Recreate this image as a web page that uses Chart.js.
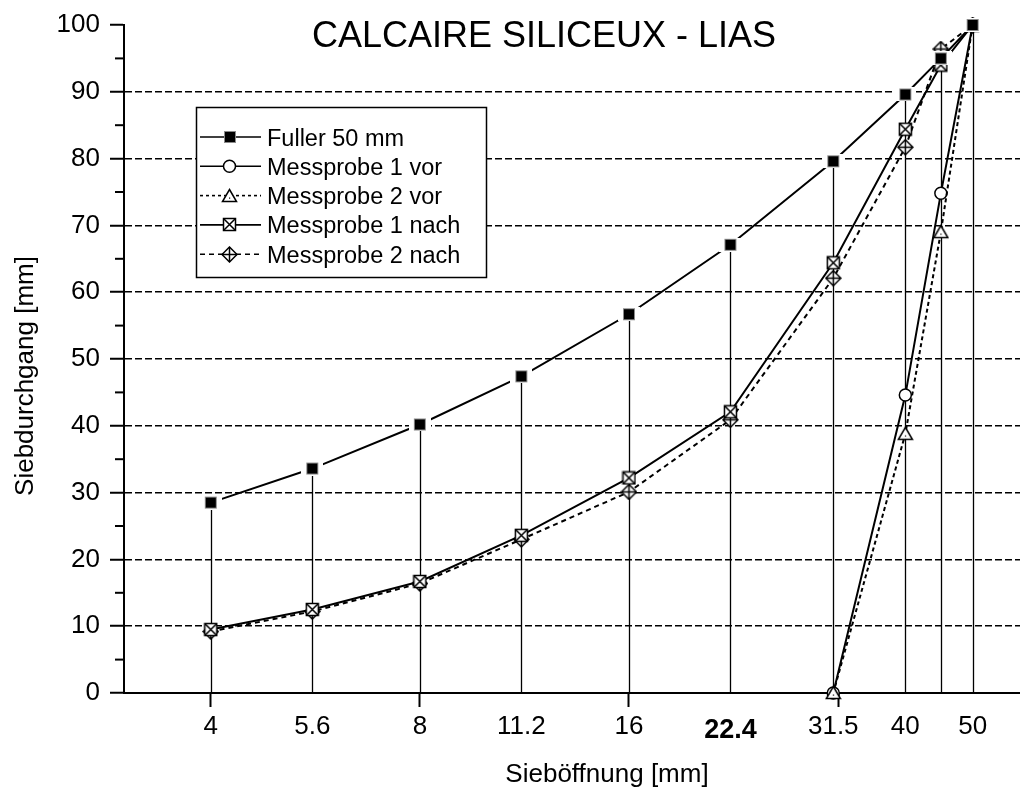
<!DOCTYPE html>
<html><head><meta charset="utf-8">
<script src="https://cdn.jsdelivr.net/npm/chart.js@4.4.1/dist/chart.umd.min.js"></script>
<style>html,body{margin:0;padding:0;background:#fff;overflow:hidden}canvas{display:block}</style>
</head><body>
<canvas id="c" width="1020" height="789"></canvas>
<script>
// ---- data ----
const sieveSizes = [4, 5.6, 8, 11.2, 16, 22.4, 31.5, 40, 45, 50];
const fuller50   = [28.5, 33.6, 40.2, 47.4, 56.7, 67.1, 79.6, 89.6, 95.0, 100];
const probe1Nach = [9.5, 12.5, 16.7, 23.6, 32.2, 42.1, 64.4, 84.4, 94.0, 100];
const probe2Nach = [9.2, 12.2, 16.4, 23.0, 30.1, 40.9, 62.1, 81.7, 96.4, 100];
const vorSizes   = [31.5, 40, 45, 50];
const probe1Vor  = [0, 44.6, 74.8, 100];
const probe2Vor  = [0, 38.8, 69.0, 100];
const xTickValues = [4, 5.6, 8, 11.2, 16, 22.4, 31.5, 32, 40, 50];
const xTickLabels = ['4', '5.6', '8', '11.2', '16', '22.4', '31.5', '', '40', '50'];
const xTickMarks  = [4, 8, 16, 32];
const xBoldTick   = 22.4;
const yMinorTicks = [5, 15, 25, 35, 45, 55, 65, 75, 85, 95];
const seriesNames = ['Fuller 50 mm', 'Messprobe 1 vor', 'Messprobe 2 vor', 'Messprobe 1 nach', 'Messprobe 2 nach'];
const chartTitle = 'CALCAIRE SILICEUX - LIAS';
const xTitle = 'Sieböffnung [mm]';
const yTitle = 'Siebdurchgang [mm]';

const FONT = '"Liberation Sans", Arial, Helvetica, sans-serif';
Chart.defaults.font.family = FONT;
Chart.defaults.color = '#000';

const toXY = (xs, ys) => xs.map((x, i) => ({x: x, y: ys[i]}));

// ---- marker images ----
function mk(w, h, fn) { const c = document.createElement('canvas'); c.width = w; c.height = h; const g = c.getContext('2d'); fn(g); return c; }
const mFuller = mk(22, 14, g => {
  g.fillStyle = '#fff'; g.fillRect(0, 0, 22, 14);
  g.fillStyle = '#000'; g.fillRect(5, 1, 12, 12);
  g.strokeStyle = '#8a8a8a'; g.lineWidth = 1; g.strokeRect(5.5, 1.5, 11, 11);
});
const mTri = mk(17, 16, g => {
  g.beginPath(); g.moveTo(8.5, 1.5); g.lineTo(15.5, 13.5); g.lineTo(1.5, 13.5); g.closePath();
  g.fillStyle = '#fff'; g.fill(); g.strokeStyle = '#000'; g.lineWidth = 1.5; g.stroke();
  g.fillStyle = '#000'; g.fillRect(8, 9.5, 1.2, 1.2);
});
const mSqX = mk(15, 15, g => {
  g.fillStyle = '#fff'; g.fillRect(1.5, 1.5, 12, 12);
  g.strokeStyle = '#000'; g.lineWidth = 1.5; g.strokeRect(1.5, 1.5, 12, 12);
  g.beginPath(); g.moveTo(1.5, 1.5); g.lineTo(13.5, 13.5); g.moveTo(13.5, 1.5); g.lineTo(1.5, 13.5); g.stroke();
});
const mDia = mk(17, 17, g => {
  g.beginPath(); g.moveTo(8.5, 1); g.lineTo(16, 8.5); g.lineTo(8.5, 16); g.lineTo(1, 8.5); g.closePath();
  g.fillStyle = '#fff'; g.fill(); g.strokeStyle = '#000'; g.lineWidth = 1.5; g.stroke();
  g.beginPath(); g.moveTo(8.5, 1); g.lineTo(8.5, 16); g.moveTo(1, 8.5); g.lineTo(16, 8.5); g.stroke();
});

const base = {borderColor: '#000', borderWidth: 2, showLine: true, fill: false, tension: 0,
  pointRadius: 6, pointBackgroundColor: '#fff', pointBorderColor: '#000', pointBorderWidth: 1.5, clip: false};

const datasets = [
  Object.assign({}, base, {label: seriesNames[0], data: toXY(sieveSizes, fuller50), pointStyle: mFuller, borderDash: [], order: 0}),
  Object.assign({}, base, {label: seriesNames[1], data: toXY(vorSizes, probe1Vor), pointStyle: 'circle', borderDash: [], order: 2}),
  Object.assign({}, base, {label: seriesNames[2], data: toXY(vorSizes, probe2Vor), pointStyle: mTri, borderDash: [4, 3], order: 1}),
  Object.assign({}, base, {label: seriesNames[3], data: toXY(sieveSizes, probe1Nach), pointStyle: mSqX, borderDash: [], order: 3}),
  Object.assign({}, base, {label: seriesNames[4], data: toXY(sieveSizes, probe2Nach), pointStyle: mDia, borderDash: [5, 4], order: 4})
];
const legendDash = [[], [], [3, 3], [], [5, 4]];

// ---- plugins ----
const dropLines = {
  id: 'dropLines',
  beforeDatasetsDraw(chart) {
    const {ctx, scales: {x, y}} = chart;
    ctx.save(); ctx.strokeStyle = '#000'; ctx.lineWidth = 1.3;
    sieveSizes.forEach((s, i) => {
      const px = Math.round(x.getPixelForValue(s)) + 0.5;
      ctx.beginPath(); ctx.moveTo(px, y.getPixelForValue(fuller50[i])); ctx.lineTo(px, y.getPixelForValue(0)); ctx.stroke();
    });
    ctx.restore();
  }
};
const decor = {
  id: 'decor',
  afterDraw(chart) {
    const {ctx, scales: {y}, chartArea} = chart;
    ctx.save();
    // minor y ticks
    ctx.strokeStyle = '#000'; ctx.lineWidth = 2;
    yMinorTicks.forEach(v => { const py = y.getPixelForValue(v); ctx.beginPath(); ctx.moveTo(chartArea.left - 9, py); ctx.lineTo(chartArea.left, py); ctx.stroke(); });
    // titles
    ctx.fillStyle = '#000'; ctx.textBaseline = 'alphabetic'; ctx.textAlign = 'center';
    ctx.font = '36px ' + FONT; ctx.fillText(chartTitle, 544, 47);
    ctx.font = '26px ' + FONT; ctx.fillText(xTitle, 607, 782);
    ctx.save(); ctx.translate(33, 376); ctx.rotate(-Math.PI / 2); ctx.font = '26px ' + FONT; ctx.fillText(yTitle, 0, 0); ctx.restore();
    // legend
    const bx = 196.5, by = 107.5, bw = 290, bh = 170;
    ctx.fillStyle = '#fff'; ctx.fillRect(bx, by, bw, bh);
    ctx.strokeStyle = '#000'; ctx.lineWidth = 1.5; ctx.strokeRect(bx, by, bw, bh);
    chart.data.datasets.forEach((ds, i) => {
      const cy = 137 + i * 29.3;
      ctx.save(); ctx.strokeStyle = '#000'; ctx.lineWidth = 1.6; ctx.setLineDash(legendDash[i]);
      ctx.beginPath(); ctx.moveTo(200, cy); ctx.lineTo(261, cy); ctx.stroke(); ctx.restore();
      const ps = ds.pointStyle;
      if (ps === 'circle') {
        ctx.beginPath(); ctx.arc(229.5, cy, 6, 0, Math.PI * 2); ctx.fillStyle = '#fff'; ctx.fill(); ctx.lineWidth = 1.5; ctx.strokeStyle = '#000'; ctx.stroke();
      } else {
        const img = (i === 0) ? mk(14, 14, g => { g.fillStyle = '#000'; g.fillRect(1, 1, 12, 12); g.strokeStyle = '#8a8a8a'; g.lineWidth = 1; g.strokeRect(1.5, 1.5, 11, 11); }) : ps;
        ctx.drawImage(img, Math.round(229.5 - img.width / 2), Math.round(cy - img.height / 2));
      }
      ctx.fillStyle = '#000'; ctx.font = '23.5px ' + FONT; ctx.textAlign = 'left'; ctx.textBaseline = 'alphabetic';
      ctx.fillText(ds.label, 267, cy + 8.5);
    });
    ctx.restore();
  }
};

new Chart(document.getElementById('c'), {
  type: 'scatter',
  data: {datasets: datasets},
  plugins: [dropLines, decor],
  options: {
    responsive: false, animation: false, events: [],
    layout: {autoPadding: false, padding: {top: 25, right: 0, bottom: 0, left: 0}},
    plugins: {legend: {display: false}, title: {display: false}, tooltip: {enabled: false}},
    scales: {
      x: {
        type: 'logarithmic', min: 3, max: 58.5, offset: false,
        afterBuildTicks: s => { s.ticks = xTickValues.map(v => ({value: v})); },
        afterFit: s => { s.height = 96; s.paddingLeft = 0; s.paddingRight = 0; },
        ticks: {
          autoSkip: false, maxRotation: 0, minRotation: 0, padding: 4, color: '#000',
          callback: (v) => { const i = xTickValues.indexOf(v); return i >= 0 ? xTickLabels[i] : ''; },
          font: (c) => (c.tick && c.tick.value === xBoldTick) ? {size: 27, weight: 'bold', family: FONT, lineHeight: 1.45} : {size: 26, family: FONT}
        },
        grid: {display: true, drawOnChartArea: false, drawTicks: true, tickLength: 14, tickWidth: 2,
          tickColor: (c) => (c.tick && xTickMarks.indexOf(c.tick.value) >= 0) ? '#000' : 'rgba(0,0,0,0)'},
        border: {display: true, color: '#000', width: 2}
      },
      y: {
        type: 'linear', min: 0, max: 100,
        afterFit: s => { s.width = 124; s.paddingTop = 0; s.paddingBottom = 0; },
        ticks: {stepSize: 10, padding: 10, color: '#000', font: {size: 26, family: FONT}},
        grid: {display: true, drawOnChartArea: true, drawTicks: true, tickLength: 14, tickWidth: 2, tickColor: '#000', lineWidth: 1.5,
          color: (c) => (c.tick && c.tick.value > 0 && c.tick.value < 100) ? '#000' : 'rgba(0,0,0,0)'},
        border: {display: true, color: '#000', width: 2, dash: [7, 3]}
      }
    }
  }
});
</script>
</body></html>
